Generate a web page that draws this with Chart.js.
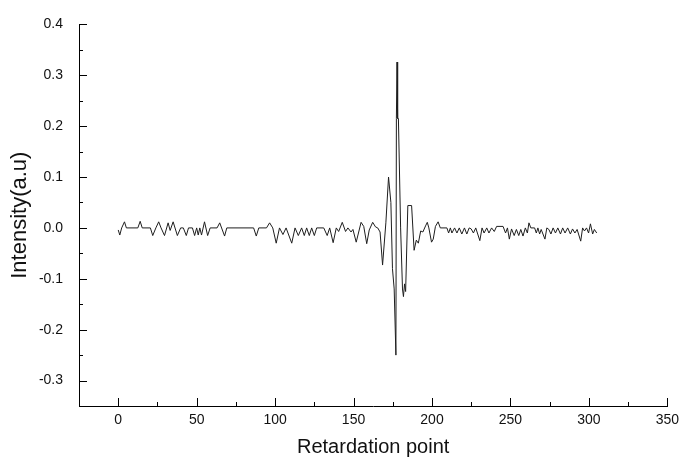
<!DOCTYPE html>
<html>
<head>
<meta charset="utf-8">
<script src="https://cdn.jsdelivr.net/npm/chart.js@4.4.1/dist/chart.umd.min.js"></script>
<style>
  html, body { margin: 0; padding: 0; background: #fff; }
</style>
</head>
<body>
<canvas id="interferogram" width="685" height="460"></canvas>
<script>
// values, x = retardation point, y = intensity
var retardation = [
  0, 1, 2.2, 4, 5.2, 12.5, 14, 15.3, 20.5, 22, 24, 25.8, 27.3, 29.5, 31.8, 33.1, 35, 37.7, 39.8, 41.5,
  43.4, 44.8, 47.3, 48.7, 50, 51, 52, 53.1, 55, 57, 58.6, 63, 64.7, 67.8, 69.2, 86.3, 88, 89.6, 94.5, 96.5,
  98.5, 100.7, 102.8, 105, 107, 110.6, 112.7, 114.8, 116.9, 118.6, 120.1, 121.8, 123.3, 125, 126.5, 131, 133.2, 134.8, 137, 139,
  140.5, 142.8, 144.9, 146.4, 148.4, 149.6, 151.7, 154.8, 156.5, 158.4, 160, 162.2, 164, 165.4, 166.9, 168.5, 170.6, 172.3, 173.8, 174.8,
  175.9, 177, 177.3, 177.7, 178.1, 178.6, 180, 181.2, 181.8, 182.5, 183.2, 184.6, 187, 188.6, 190, 191.3, 192.8, 194.2, 195.9, 197,
  198, 199.7, 200.8, 202.2, 203.9, 205.3, 209.5, 210.6, 211.7, 212.7, 214.4, 215.9, 217.4, 219, 220.7, 222.2, 223.7, 225, 226.4, 227.9,
  230.5, 231.9, 233.2, 234.9, 236.3, 238, 239.7, 241.2, 245.3, 246.9, 248.1, 249.3, 250.7, 252.4, 253.8, 255.3, 256.6, 258, 259.5, 260.8,
  261.8, 263, 265.4, 266.5, 267.5, 268.6, 269.6, 272, 273.2, 274.5, 275.8, 277.2, 278.7, 280.2, 281.9, 283.3, 284.8, 286.5, 288.2, 289.6,
  291.1, 292.5, 294.8, 296, 297.2, 298.5, 299.8, 301, 302.4, 303.5, 305
];
var intensity = [
  -0.004, -0.014, 0, 0.012, 0, 0, 0.013, 0, 0, -0.015, 0, 0.012, 0, -0.015, 0.010, -0.005, 0.012, -0.015, 0, 0,
  -0.015, 0, 0, -0.015, 0, -0.014, 0, -0.014, 0.012, -0.015, 0, 0, 0.010, -0.016, 0, 0, -0.016, 0, 0, 0.010,
  0, -0.030, 0, -0.013, 0, -0.030, 0, -0.015, 0, -0.015, 0, -0.015, 0, -0.015, 0, 0, -0.015, 0, -0.029, 0,
  -0.007, 0.011, -0.007, 0, -0.008, -0.003, -0.028, 0.011, 0.003, -0.031, -0.004, 0.011, 0.002, 0, -0.008, -0.073, 0.010, 0.100, 0.050, -0.080,
  -0.120, -0.250, 0.215, 0.326, 0.215, 0.215, 0, -0.120, -0.135, -0.110, -0.125, 0.044, 0.044, -0.044, -0.024, -0.030, -0.006, -0.008, 0.004, 0.011,
  0, -0.028, -0.022, 0.003, 0.012, 0, 0, -0.010, 0, -0.010, 0, -0.010, 0, -0.012, 0, -0.012, 0, -0.002, -0.010, 0,
  -0.025, 0, -0.010, 0, -0.010, 0, -0.007, 0.003, 0.003, -0.010, 0, -0.022, -0.002, -0.015, -0.003, -0.015, -0.003, -0.016, 0, -0.010,
  0.010, 0, 0, -0.010, 0, -0.012, -0.003, -0.022, 0, -0.003, -0.012, 0, -0.010, 0, -0.012, 0, -0.010, 0, -0.012, -0.002,
  -0.010, -0.003, -0.026, 0, -0.006, 0, -0.010, 0.008, -0.012, -0.003, -0.010
];
var xTicks = [0, 50, 100, 150, 200, 250, 300, 350];
var yTicks = [-0.3, -0.2, -0.1, 0.0, 0.1, 0.2, 0.3, 0.4];

var points = retardation.map(function (r, i) {
  return { x: r, y: intensity[i] };
});

// Origin style tick marks pointing into the plot, with a minor tick between majors
var inwardTicks = {
  id: "inwardTicks",
  afterDatasetsDraw: function (chart) {
    var ctx = chart.ctx;
    var xs = chart.scales.x;
    var ys = chart.scales.y;
    var area = chart.chartArea;
    ctx.save();
    ctx.strokeStyle = "#000";
    ctx.lineWidth = 1;
    ctx.beginPath();
    xTicks.forEach(function (v, i) {
      var px = Math.round(xs.getPixelForValue(v)) + 0.5;
      ctx.moveTo(px, area.bottom);
      ctx.lineTo(px, area.bottom - 8);
      if (i < xTicks.length - 1) {
        var m = Math.round(xs.getPixelForValue((v + xTicks[i + 1]) / 2)) + 0.5;
        ctx.moveTo(m, area.bottom);
        ctx.lineTo(m, area.bottom - 4);
      }
    });
    yTicks.forEach(function (v, i) {
      var py = Math.round(ys.getPixelForValue(v)) + 0.5;
      ctx.moveTo(area.left, py);
      ctx.lineTo(area.left + 8, py);
      if (i < yTicks.length - 1) {
        var m = Math.round(ys.getPixelForValue((v + yTicks[i + 1]) / 2)) + 0.5;
        ctx.moveTo(area.left, m);
        ctx.lineTo(area.left + 4, m);
      }
    });
    ctx.stroke();
    ctx.restore();
  }
};

var fontFamily = "'Liberation Sans', Arial, Helvetica, sans-serif";

new Chart(document.getElementById("interferogram").getContext("2d"), {
  type: "line",
  data: {
    datasets: [{
      data: points,
      borderColor: "#1e1e1e",
      borderWidth: 1,
      pointRadius: 0,
      fill: false,
      tension: 0
    }]
  },
  options: {
    responsive: false,
    animation: false,
    layout: { padding: { top: 20, right: 13, bottom: 0, left: 0 } },
    plugins: {
      legend: { display: false },
      tooltip: { enabled: false }
    },
    scales: {
      x: {
        type: "linear",
        min: -25,
        max: 350,
        afterBuildTicks: function (scale) {
          scale.ticks = xTicks.map(function (v) { return { value: v }; });
        },
        afterFit: function (scale) { scale.height = 54; },
        grid: { display: false, drawTicks: false },
        border: { display: true, color: "#000", width: 1 },
        ticks: {
          color: "#111",
          padding: 6,
          maxRotation: 0,
          font: { family: fontFamily, size: 14 },
          callback: function (v) { return String(v); }
        },
        title: {
          display: true,
          text: "Retardation point",
          color: "#111",
          padding: { top: 0, bottom: 1 },
          font: { family: fontFamily, size: 20 }
        }
      },
      y: {
        min: -0.35,
        max: 0.4,
        afterBuildTicks: function (scale) {
          scale.ticks = yTicks.map(function (v) { return { value: v }; });
        },
        afterFit: function (scale) { scale.width = 79; },
        grid: { display: false, drawTicks: false },
        border: { display: true, color: "#000", width: 1 },
        ticks: {
          color: "#111",
          padding: 16,
          font: { family: fontFamily, size: 14 },
          callback: function (v) { return v.toFixed(1); }
        },
        title: {
          display: true,
          text: "Intensity(a.u)",
          color: "#111",
          padding: { top: 7, bottom: 0 },
          font: { family: fontFamily, size: 22 }
        }
      }
    }
  },
  plugins: [inwardTicks]
});
</script>
</body>
</html>
